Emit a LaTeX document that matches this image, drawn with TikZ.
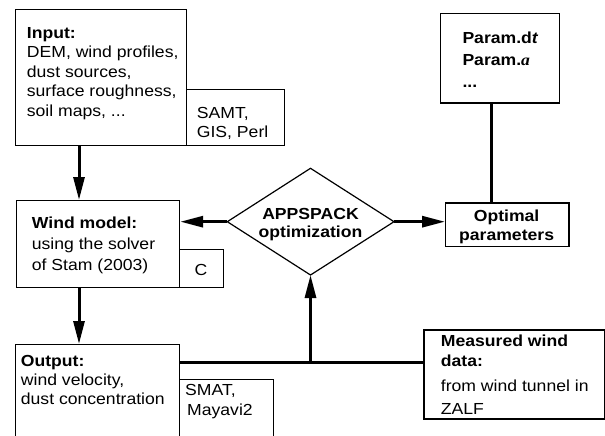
\documentclass[tikz,border=0pt]{standalone}
\usepackage{fontspec}
\setmainfont{Liberation Sans}[FakeStretch=1.1]
\newfontfamily\serifbi{Liberation Serif}[FakeStretch=1.1]
\usetikzlibrary{arrows.meta}
\begin{document}
\begin{tikzpicture}[x=1pt,y=-1pt,
  box/.style={draw, line width=1.2pt, inner sep=0pt, anchor=north west},
  txt/.style={inner sep=0pt, anchor=base west, font=\fontsize{16}{19.5}\selectfont},
  ctxt/.style={inner sep=0pt, anchor=base, font=\fontsize{16}{19.5}\selectfont\bfseries},
  conn/.style={line width=3pt},
  arr/.style={line width=3pt, -{Triangle[length=23pt,width=11pt]}}]
\useasboundingbox (0,0) rectangle (605,436);
% boxes
\node[box, minimum width=171pt, minimum height=136pt] (input) at (15,9) {};
\node[box, minimum width=98pt, minimum height=56pt] (samt) at (186,89) {};
\node[box, minimum width=163pt, minimum height=86.5pt] (wind) at (16,200) {};
\node[box, minimum width=44pt, minimum height=37.5pt] (cbox) at (179,249) {};
\node[box, minimum width=164pt, minimum height=92pt] (output) at (15,344) {};
\node[box, minimum width=94pt, minimum height=57pt] (smat) at (179,379) {};
\node[box, minimum width=119pt, minimum height=89.6pt] (param) at (440,12.7) {};
\node[box, minimum width=123.3pt, minimum height=43.4pt] (optimal) at (445,202.3) {};
\node[box, minimum width=180.7pt, minimum height=89pt] (meas) at (423.3,329.3) {};
\draw[line width=1.2pt] (227.3,221.7) coordinate (dw) -- (310.5,168.3) coordinate (dn)
  -- (394,221.7) coordinate (de) -- (310.5,275) coordinate (ds) -- cycle;
% texts
\node[txt] (tin) at (26.7,38.3) {\begin{tabular}[t]{@{}l@{}}\textbf{Input:}\\DEM, wind profiles,\\dust sources,\\surface roughness,\\soil maps, ...\end{tabular}};
\node[txt] (tsamt) at (196.7,118) {\begin{tabular}[t]{@{}l@{}}SAMT,\\GIS, Perl\end{tabular}};
\node[txt] (twind) at (31.7,228.3) {\begin{tabular}[t]{@{}l@{}}\textbf{Wind model:}\\[1.5pt]using the solver\\[1.5pt]of Stam (2003)\end{tabular}};
\node[txt, anchor=base] (tc) at (201,275) {C};
\node[txt] (tout) at (20.7,366.7) {\begin{tabular}[t]{@{}l@{}}\textbf{Output:}\\[-0.5pt]wind velocity,\\[-0.5pt]dust concentration\end{tabular}};
\node[txt] (tsmat) at (185,395) {\begin{tabular}[t]{@{}l@{}}SMAT,\\[0.5pt]\hspace{2pt}Mayavi2\end{tabular}};
\node[ctxt] (tdia) at (310.5,219.3) {\begin{tabular}[t]{@{}c@{}}APPSPACK\\[-1.5pt]optimization\end{tabular}};
\node[ctxt] (topt) at (506.6,221.7) {\begin{tabular}[t]{@{}c@{}}Optimal\\[-0.5pt]parameters\end{tabular}};
\node[txt, font=\fontsize{16}{19.5}\selectfont\bfseries] (tpar) at (462.3,43.3) {\begin{tabular}[t]{@{}l@{}}Param.d\textit{t}\\[2.5pt]Param.{\serifbi\bfseries\itshape a}\\[2.5pt]...\end{tabular}};
\node[txt] (tmeas) at (440.7,346.7) {\begin{tabular}[t]{@{}l@{}}\textbf{Measured wind}\\[0.5pt]\textbf{data:}\\[5.5pt]from wind tunnel in\\[3.5pt]ZALF\end{tabular}};
% connectors
\coordinate (a1) at (79,0);
\coordinate (p1) at (491.7,0);
\coordinate (j) at (310.5,362);
\draw[arr] (a1 |- input.south) -- (a1 |- wind.north);
\draw[arr] (a1 |- wind.south) -- (a1 |- output.north);
\draw[arr] (dw) -- (wind.east |- dw);
\draw[arr] (de) -- (optimal.west |- de);
\draw[line width=2.6pt] (p1 |- param.south) -- (p1 |- optimal.north);
\draw[conn] (output.east |- j) -- (meas.west |- j);
\draw[arr] (j) -- (ds);
\end{tikzpicture}
\end{document}
